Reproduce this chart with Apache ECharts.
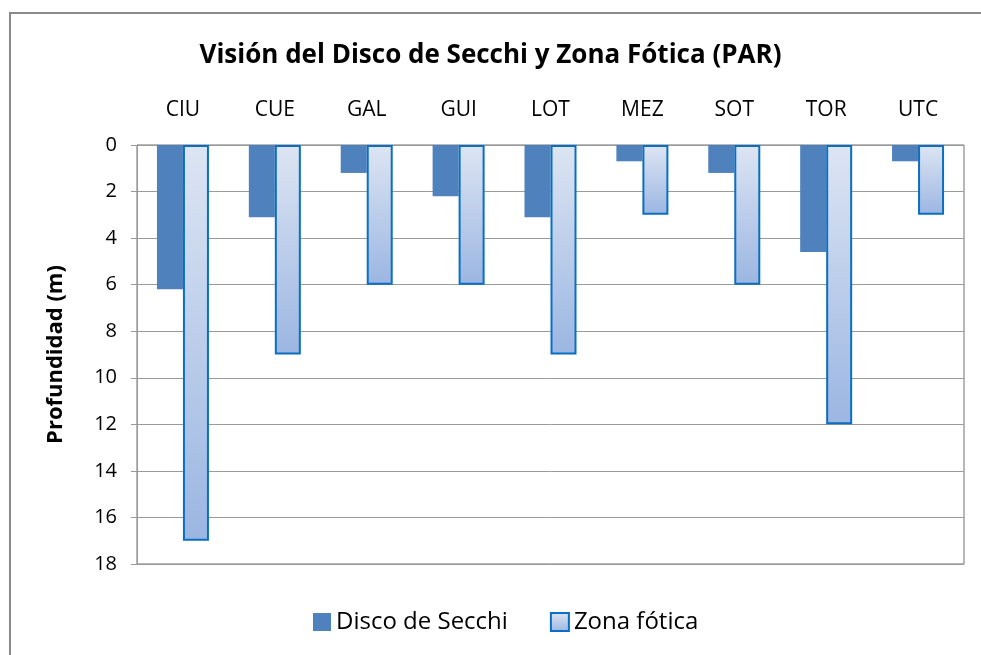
<!DOCTYPE html>
<html>
<head>
<meta charset="utf-8">
<script src="https://cdn.jsdelivr.net/npm/echarts@6/dist/echarts.min.js"></script>
<style>
  html, body { margin: 0; padding: 0; background: #fff; }
  #chart { width: 981px; height: 655px; }
</style>
</head>
<body>
<div id="chart"></div>
<script>
const stations = ["CIU", "CUE", "GAL", "GUI", "LOT", "MEZ", "SOT", "TOR", "UTC"];
const secchi = [6.2, 3.1, 1.2, 2.2, 3.1, 0.7, 1.2, 4.6, 0.7];
const zonaFotica = [17, 9, 6, 6, 9, 3, 6, 12, 3];
const depthTicks = [0, 2, 4, 6, 8, 10, 12, 14, 16, 18];

const font = "'Open Sans', 'Noto Sans', sans-serif";
const chart = echarts.init(document.getElementById("chart"));

chart.setOption({
  animation: false,
  backgroundColor: "#fff",
  graphic: [
    {
      type: "rect",
      z: -10,
      shape: { x: 10, y: 13, width: 1000, height: 700 },
      style: { fill: "none", stroke: "#8a8a8a", lineWidth: 2 },
    },
  ],
  title: {
    text: "Visión del Disco de Secchi y Zona Fótica (PAR)",
    left: "center",
    top: 38,
    textStyle: { fontFamily: font, fontSize: 26, fontWeight: "bold", color: "#000" },
  },
  legend: {
    bottom: 16,
    left: 308,
    itemWidth: 18,
    itemHeight: 18,
    itemGap: 42,
    textStyle: { fontFamily: font, fontSize: 24, color: "#000" },
    data: [
      { name: "Disco de Secchi", icon: "rect" },
      { name: "Zona fótica", icon: "rect" },
    ],
  },
  grid: {
    left: 137, right: 17, top: 145, bottom: 91,
    show: true, borderColor: "#707070", borderWidth: 1,
  },
  xAxis: {
    type: "category",
    position: "top",
    data: stations,
    axisLine: { show: false },
    axisTick: { show: false },
    axisLabel: { fontFamily: font, fontSize: 21, color: "#000", margin: 24 },
  },
  yAxis: {
    type: "value",
    inverse: true,
    min: 0,
    max: depthTicks[depthTicks.length - 1],
    interval: 2,
    name: "Profundidad (m)",
    nameLocation: "middle",
    nameGap: 70,
    nameTextStyle: { fontFamily: font, fontSize: 22, fontWeight: "bold", color: "#000" },
    axisLine: { show: true, lineStyle: { color: "#9a9a9a" } },
    axisTick: { show: true, length: 6, lineStyle: { color: "#9a9a9a" } },
    axisLabel: { fontFamily: font, fontSize: 20, color: "#000", margin: 20 },
    splitLine: { lineStyle: { color: "#9a9a9a", width: 1 } },
  },
  series: [
    {
      name: "Disco de Secchi",
      type: "bar",
      data: secchi,
      barWidth: 26,
      barGap: "0%",
      itemStyle: { color: "#4f81bd" },
    },
    {
      name: "Zona fótica",
      type: "bar",
      data: zonaFotica,
      barWidth: 26,
      itemStyle: {
        color: new echarts.graphic.LinearGradient(0, 0, 0, 1, [
          { offset: 0, color: "#dde5f3" },
          { offset: 1, color: "#9bb6e2" },
        ]),
        borderColor: "#0a6fc2",
        borderWidth: 2,
      },
    },
  ],
});
</script>
</body>
</html>
